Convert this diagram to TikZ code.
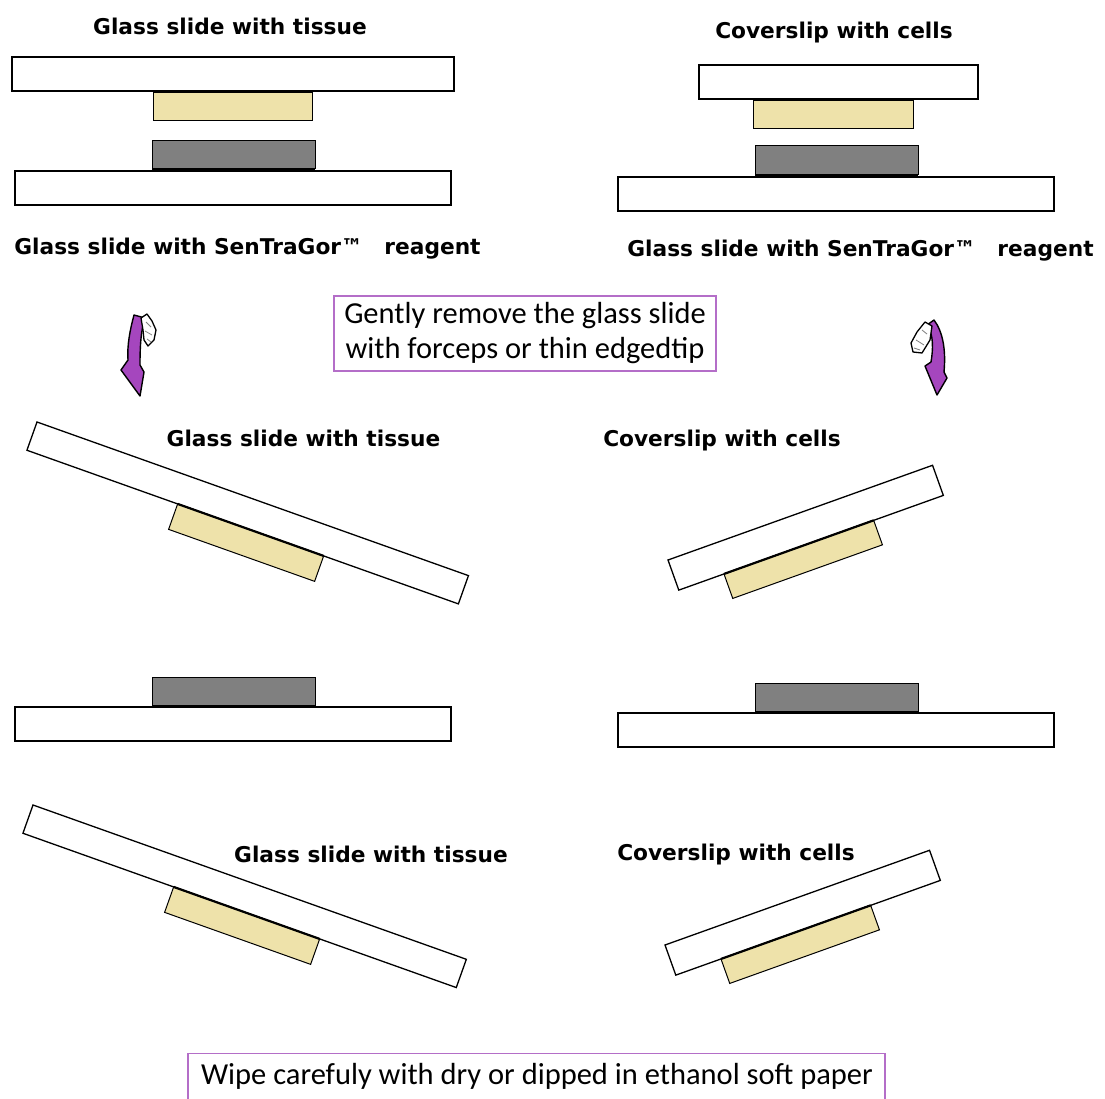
\documentclass[tikz,border=0pt]{standalone}
\usepackage{fontspec}
\newfontfamily\labfont{DejaVu Sans}
\newfontfamily\boxfont{Carlito}
\definecolor{tissuecol}{RGB}{238,226,170}
\definecolor{reagentcol}{RGB}{128,128,128}
\definecolor{arrowcol}{RGB}{165,70,190}
\definecolor{boxcol}{RGB}{180,110,200}
\begin{document}
\begin{tikzpicture}[x=1pt,y=-1pt,
  slide/.style={draw=black,fill=white,line width=1.3},
  tissue/.style={draw=black,fill=tissuecol,line width=1},
  reagent/.style={draw=black,fill=reagentcol,line width=1},
  contact/.style={line width=2.2,line cap=butt},
  lbl/.style={font=\labfont\bfseries\fontsize{21.7}{26}\selectfont,inner sep=0pt,text height=16pt,text depth=5pt},
  note/.style={draw=boxcol,line width=1.3,font=\boxfont\fontsize{30.5}{35}\selectfont,align=center,inner sep=0pt},
  turn/.style={fill=arrowcol,draw=black,line width=1.4,line join=round},
  hand/.style={fill=white,draw=black,line width=1.3,line join=round}]
\useasboundingbox[fill=white] (0,0) rectangle (1105,1099);

% ---------- top left ----------
\draw[slide] (12,57) rectangle (454,91);
\draw[tissue] (153,92) rectangle (312,121);
\draw[contact] (153,92) -- (312,92);
\draw[reagent] (152,141) rectangle (315,169);
\draw[contact] (152,169) -- (315,169);
\draw[slide] (15,171) rectangle (451,205);
\node[lbl] (t1) at (230,29) {Glass slide with tissue};
\node[lbl] (r1) at (247.5,249) {Glass slide with SenTraGor™\quad reagent};

% ---------- top right ----------
\draw[slide] (699,65) rectangle (978,99);
\draw[tissue] (753,100) rectangle (913,129);
\draw[contact] (753,100) -- (913,100);
\draw[reagent] (755,146) rectangle (918,175);
\draw[contact] (755,175) -- (918,175);
\draw[slide] (618,177) rectangle (1054,211);
\node[lbl] (t2) at (834,33) {Coverslip with cells};
\node[lbl] (r2) at (860.5,251) {Glass slide with SenTraGor™\quad reagent};

% ---------- instruction 1 ----------
\node[note,minimum width=382,minimum height=75] (n1) at (525,333.5)
  {Gently remove the glass slide\\with forceps or thin edgedtip};

% ---------- curved arrows ----------
\filldraw[turn] (134,315) .. controls (130,330) and (127,345) .. (128,360)
  -- (121,370) -- (140,396) -- (144,372) -- (140,365)
  .. controls (140,345) and (141,330) .. (145,318) -- cycle;
\filldraw[hand] (141,318) -- (147,314) -- (152,321) -- (156,330) -- (154,340)
  -- (148,346) -- (144,340) -- (143,330) -- cycle;
\draw[gray,line width=0.8] (146,322) -- (151,327) (145,331) -- (152,335) (147,339) -- (151,342);

\filldraw[turn] (927,325) .. controls (934,335) and (933,350) .. (931,362)
  -- (925,366) -- (937,395) -- (947,378) -- (944,372)
  .. controls (946,350) and (943,332) .. (934,320) -- cycle;
\filldraw[hand] (925,322) -- (932,326) -- (930,340) -- (922,353) -- (913,352)
  -- (911,343) -- (917,332) -- cycle;
\draw[gray,line width=0.8] (922,330) -- (927,334) (916,340) -- (924,345) (914,348) -- (920,350);

% ---------- middle row ----------
\begin{scope}[shift={(37,422)},rotate=-19.6]
  \draw[slide] (0,0) rectangle (458,30);
  \draw[tissue] (160,30) rectangle (315,57);
  \draw[contact] (160,30) -- (315,30);
\end{scope}
\node[lbl] (t3) at (303.5,441) {Glass slide with tissue};

\begin{scope}[shift={(668,560)},rotate=19.7]
  \draw[slide] (0,0) rectangle (281,32);
  \draw[tissue] (48,32) rectangle (207,58);
  \draw[contact] (48,32) -- (207,32);
\end{scope}
\node[lbl] (t4) at (722,441) {Coverslip with cells};

\draw[reagent] (152,677) rectangle (315,706);
\draw[contact] (152,706) -- (315,706);
\draw[slide] (15,707) rectangle (451,741);

\draw[reagent] (755,683) rectangle (918,712);
\draw[contact] (755,712) -- (918,712);
\draw[slide] (618,713) rectangle (1054,747);

% ---------- bottom row ----------
\begin{scope}[shift={(33,805)},rotate=-19.6]
  \draw[slide] (0,0) rectangle (460,30);
  \draw[tissue] (160,30) rectangle (315,57);
  \draw[contact] (160,30) -- (315,30);
\end{scope}
\node[lbl] (t5) at (371,857) {Glass slide with tissue};

\begin{scope}[shift={(665,945)},rotate=19.7]
  \draw[slide] (0,0) rectangle (281,32);
  \draw[tissue] (48,32) rectangle (207,58);
  \draw[contact] (48,32) -- (207,32);
\end{scope}
\node[lbl] (t6) at (736,855) {Coverslip with cells};

% ---------- instruction 2 ----------
\node[note,minimum width=697,minimum height=50,anchor=north] (n2) at (536.5,1053) {};
\node[font=\boxfont\fontsize{30.5}{35}\selectfont,inner sep=0pt] (n2t) at (537,1076)
  {Wipe carefuly with dry or dipped in ethanol soft paper};
\end{tikzpicture}
\end{document}
